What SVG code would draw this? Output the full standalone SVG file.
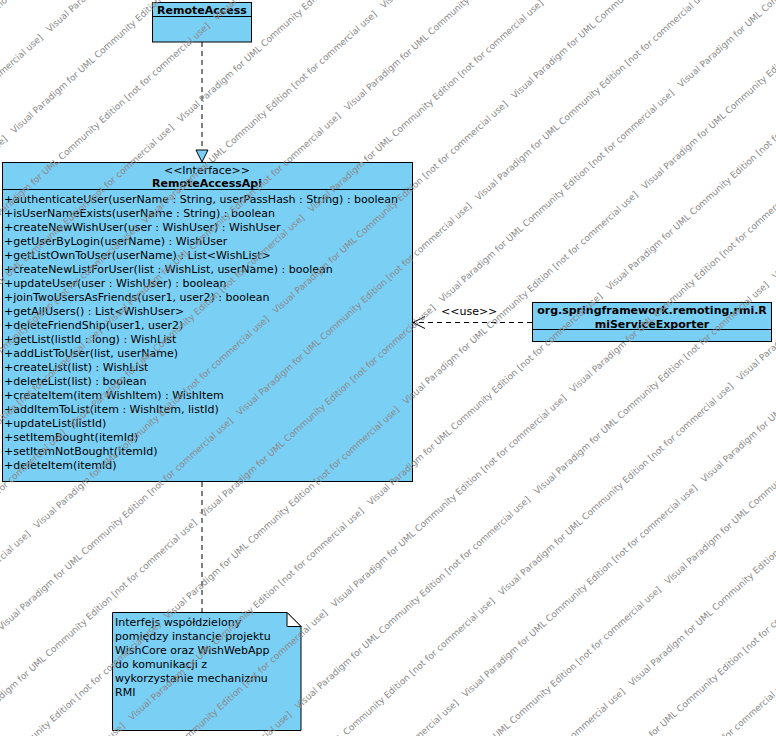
<svg xmlns="http://www.w3.org/2000/svg" width="776" height="736" viewBox="0 0 776 736">
  <defs>
    <style>
      .box { fill: #7ACFF5; stroke: #000; stroke-width: 1; }
      .sep { stroke: #000; stroke-width: 1; }
      .t { font-family: "DejaVu Sans", "Liberation Sans", sans-serif; font-size: 11px; fill: #000; }
      .b { font-weight: bold; }
      .mid { text-anchor: middle; }
      .dash { fill: none; stroke: #000; stroke-width: 1; stroke-dasharray: 5 4; }
      .wm { font-family: "DejaVu Sans", sans-serif; font-size: 9px; fill: #8a8a8a; }
    </style>
    <marker id="openArrow" markerUnits="userSpaceOnUse" markerWidth="14" markerHeight="14" refX="13" refY="7" orient="auto" viewBox="0 0 14 14">
      <path d="M1,1 L13,7 L1,13" fill="none" stroke="#000" stroke-width="1"/>
    </marker>
  </defs>
  <rect width="776" height="736" fill="#fff"/>

  <!-- connectors -->
  <g id="connectors">
    <!-- realization: RemoteAccess -> RemoteAccessApi -->
    <line class="dash" x1="202" y1="42" x2="202" y2="150"/>
    <polygon points="196,150 208,150 202,162" fill="#7ACFF5" stroke="#000" stroke-width="1"/>
    <!-- usage dependency -->
    <line class="dash" x1="532" y1="322.5" x2="413" y2="322.5" marker-end="url(#openArrow)"/>
    <text class="t" x="441" y="314.5">&lt;&lt;use&gt;&gt;</text>
    <!-- note anchor -->
    <line class="dash" x1="202" y1="482" x2="202" y2="612"/>
  </g>

  <!-- RemoteAccess -->
  <g id="RemoteAccess">
    <rect class="box" x="152.5" y="2.5" width="99" height="39.5"/>
    <line class="sep" x1="152.5" y1="16.5" x2="251.5" y2="16.5"/>
    <text class="t b mid" x="202" y="13.5">RemoteAccess</text>
  </g>

  <!-- RemoteAccessApi interface -->
  <g id="RemoteAccessApi">
    <rect class="box" x="2.5" y="162.5" width="410" height="319"/>
    <line class="sep" x1="2.5" y1="189.5" x2="412.5" y2="189.5"/>
    <text class="t mid" x="207" y="174">&lt;&lt;Interface&gt;&gt;</text>
    <text class="t b mid" x="207" y="187">RemoteAccessApi</text>
    <text class="t" x="4" y="202.5">+authenticateUser(userName : String, userPassHash : String) : boolean</text>
    <text class="t" x="4" y="216.5">+isUserNameExists(userName : String) : boolean</text>
    <text class="t" x="4" y="230.5">+createNewWishUser(user : WishUser) : WishUser</text>
    <text class="t" x="4" y="244.5">+getUserByLogin(userName) : WishUser</text>
    <text class="t" x="4" y="258.5">+getListOwnToUser(userName) : List&lt;WishList&gt;</text>
    <text class="t" x="4" y="272.5">+createNewListForUser(list : WishList, userName) : boolean</text>
    <text class="t" x="4" y="286.5">+updateUser(user : WishUser) : boolean</text>
    <text class="t" x="4" y="300.5">+joinTwoUsersAsFriends(user1, user2) : boolean</text>
    <text class="t" x="4" y="314.5">+getAllUsers() : List&lt;WishUser&gt;</text>
    <text class="t" x="4" y="328.5">+deleteFriendShip(user1, user2)</text>
    <text class="t" x="4" y="342.5">+getList(listId : long) : WishList</text>
    <text class="t" x="4" y="356.5">+addListToUser(list, userName)</text>
    <text class="t" x="4" y="370.5">+createList(list) : WishList</text>
    <text class="t" x="4" y="384.5">+deleteList(list) : boolean</text>
    <text class="t" x="4" y="398.5">+createItem(item WishItem) : WishItem</text>
    <text class="t" x="4" y="412.5">+addItemToList(item : WishItem, listId)</text>
    <text class="t" x="4" y="426.5">+updateList(listId)</text>
    <text class="t" x="4" y="440.5">+setItemBought(itemId)</text>
    <text class="t" x="4" y="454.5">+setItemNotBought(itemId)</text>
    <text class="t" x="4" y="468.5">+deleteItem(itemId)</text>
  </g>

  <!-- RmiServiceExporter -->
  <g id="RmiServiceExporter">
    <rect class="box" x="532.5" y="302.5" width="239" height="39"/>
    <line class="sep" x1="532.5" y1="329.5" x2="771.5" y2="329.5"/>
    <text class="t b mid" x="652" y="313.5">org.springframework.remoting.rmi.R</text>
    <text class="t b mid" x="652" y="327.5">miServiceExporter</text>
  </g>

  <!-- note -->
  <g id="note">
    <path class="box" d="M112.5,612.5 H287 L301,626.5 V730.5 H112.5 Z"/>
    <path d="M287,612.5 V626.5 H301 Z" fill="#fff" stroke="#000" stroke-width="1"/>
    <text class="t" x="115" y="626">Interfejs współdzielony</text>
    <text class="t" x="115" y="640">pomiędzy instancje projektu</text>
    <text class="t" x="115" y="654">WishCore oraz WishWebApp</text>
    <text class="t" x="115" y="668">do komunikacji z</text>
    <text class="t" x="115" y="682">wykorzystanie mechanizmu</text>
    <text class="t" x="115" y="696">RMI</text>
  </g>

  <!-- edition watermark, drawn diagonally over everything -->
  <g id="watermark" class="wm" transform="rotate(-42)">
    <text x="-853.4" y="6.1">Visual Paradigm for UML Community Edition [not for commercial use]&#160;&#160;&#160;Visual Paradigm for UML Community Edition [not for commercial use]&#160;&#160;&#160;Visual Paradigm for UML Community Edition [not for commercial use]&#160;&#160;&#160;Visual Paradigm for UML Community Edition [not for commercial use]&#160;&#160;&#160;Visual Paradigm for UML Community Edition [not for commercial use]</text>
    <text x="-948.4" y="57.6">Visual Paradigm for UML Community Edition [not for commercial use]&#160;&#160;&#160;Visual Paradigm for UML Community Edition [not for commercial use]&#160;&#160;&#160;Visual Paradigm for UML Community Edition [not for commercial use]&#160;&#160;&#160;Visual Paradigm for UML Community Edition [not for commercial use]&#160;&#160;&#160;Visual Paradigm for UML Community Edition [not for commercial use]</text>
    <text x="-721.4" y="109.1">Visual Paradigm for UML Community Edition [not for commercial use]&#160;&#160;&#160;Visual Paradigm for UML Community Edition [not for commercial use]&#160;&#160;&#160;Visual Paradigm for UML Community Edition [not for commercial use]&#160;&#160;&#160;Visual Paradigm for UML Community Edition [not for commercial use]&#160;&#160;&#160;Visual Paradigm for UML Community Edition [not for commercial use]</text>
    <text x="-816.4" y="160.6">Visual Paradigm for UML Community Edition [not for commercial use]&#160;&#160;&#160;Visual Paradigm for UML Community Edition [not for commercial use]&#160;&#160;&#160;Visual Paradigm for UML Community Edition [not for commercial use]&#160;&#160;&#160;Visual Paradigm for UML Community Edition [not for commercial use]&#160;&#160;&#160;Visual Paradigm for UML Community Edition [not for commercial use]</text>
    <text x="-911.4" y="212.1">Visual Paradigm for UML Community Edition [not for commercial use]&#160;&#160;&#160;Visual Paradigm for UML Community Edition [not for commercial use]&#160;&#160;&#160;Visual Paradigm for UML Community Edition [not for commercial use]&#160;&#160;&#160;Visual Paradigm for UML Community Edition [not for commercial use]&#160;&#160;&#160;Visual Paradigm for UML Community Edition [not for commercial use]</text>
    <text x="-684.4" y="263.6">Visual Paradigm for UML Community Edition [not for commercial use]&#160;&#160;&#160;Visual Paradigm for UML Community Edition [not for commercial use]&#160;&#160;&#160;Visual Paradigm for UML Community Edition [not for commercial use]&#160;&#160;&#160;Visual Paradigm for UML Community Edition [not for commercial use]&#160;&#160;&#160;Visual Paradigm for UML Community Edition [not for commercial use]</text>
    <text x="-779.4" y="315.1">Visual Paradigm for UML Community Edition [not for commercial use]&#160;&#160;&#160;Visual Paradigm for UML Community Edition [not for commercial use]&#160;&#160;&#160;Visual Paradigm for UML Community Edition [not for commercial use]&#160;&#160;&#160;Visual Paradigm for UML Community Edition [not for commercial use]&#160;&#160;&#160;Visual Paradigm for UML Community Edition [not for commercial use]</text>
    <text x="-874.4" y="366.6">Visual Paradigm for UML Community Edition [not for commercial use]&#160;&#160;&#160;Visual Paradigm for UML Community Edition [not for commercial use]&#160;&#160;&#160;Visual Paradigm for UML Community Edition [not for commercial use]&#160;&#160;&#160;Visual Paradigm for UML Community Edition [not for commercial use]&#160;&#160;&#160;Visual Paradigm for UML Community Edition [not for commercial use]</text>
    <text x="-647.4" y="418.1">Visual Paradigm for UML Community Edition [not for commercial use]&#160;&#160;&#160;Visual Paradigm for UML Community Edition [not for commercial use]&#160;&#160;&#160;Visual Paradigm for UML Community Edition [not for commercial use]&#160;&#160;&#160;Visual Paradigm for UML Community Edition [not for commercial use]&#160;&#160;&#160;Visual Paradigm for UML Community Edition [not for commercial use]</text>
    <text x="-742.4" y="469.6">Visual Paradigm for UML Community Edition [not for commercial use]&#160;&#160;&#160;Visual Paradigm for UML Community Edition [not for commercial use]&#160;&#160;&#160;Visual Paradigm for UML Community Edition [not for commercial use]&#160;&#160;&#160;Visual Paradigm for UML Community Edition [not for commercial use]&#160;&#160;&#160;Visual Paradigm for UML Community Edition [not for commercial use]</text>
    <text x="-837.4" y="521.1">Visual Paradigm for UML Community Edition [not for commercial use]&#160;&#160;&#160;Visual Paradigm for UML Community Edition [not for commercial use]&#160;&#160;&#160;Visual Paradigm for UML Community Edition [not for commercial use]&#160;&#160;&#160;Visual Paradigm for UML Community Edition [not for commercial use]&#160;&#160;&#160;Visual Paradigm for UML Community Edition [not for commercial use]</text>
    <text x="-932.4" y="572.6">Visual Paradigm for UML Community Edition [not for commercial use]&#160;&#160;&#160;Visual Paradigm for UML Community Edition [not for commercial use]&#160;&#160;&#160;Visual Paradigm for UML Community Edition [not for commercial use]&#160;&#160;&#160;Visual Paradigm for UML Community Edition [not for commercial use]&#160;&#160;&#160;Visual Paradigm for UML Community Edition [not for commercial use]</text>
    <text x="-705.4" y="624.1">Visual Paradigm for UML Community Edition [not for commercial use]&#160;&#160;&#160;Visual Paradigm for UML Community Edition [not for commercial use]&#160;&#160;&#160;Visual Paradigm for UML Community Edition [not for commercial use]&#160;&#160;&#160;Visual Paradigm for UML Community Edition [not for commercial use]&#160;&#160;&#160;Visual Paradigm for UML Community Edition [not for commercial use]</text>
    <text x="-800.4" y="675.6">Visual Paradigm for UML Community Edition [not for commercial use]&#160;&#160;&#160;Visual Paradigm for UML Community Edition [not for commercial use]&#160;&#160;&#160;Visual Paradigm for UML Community Edition [not for commercial use]&#160;&#160;&#160;Visual Paradigm for UML Community Edition [not for commercial use]&#160;&#160;&#160;Visual Paradigm for UML Community Edition [not for commercial use]</text>
    <text x="-895.4" y="727.1">Visual Paradigm for UML Community Edition [not for commercial use]&#160;&#160;&#160;Visual Paradigm for UML Community Edition [not for commercial use]&#160;&#160;&#160;Visual Paradigm for UML Community Edition [not for commercial use]&#160;&#160;&#160;Visual Paradigm for UML Community Edition [not for commercial use]&#160;&#160;&#160;Visual Paradigm for UML Community Edition [not for commercial use]</text>
    <text x="-668.4" y="778.6">Visual Paradigm for UML Community Edition [not for commercial use]&#160;&#160;&#160;Visual Paradigm for UML Community Edition [not for commercial use]&#160;&#160;&#160;Visual Paradigm for UML Community Edition [not for commercial use]&#160;&#160;&#160;Visual Paradigm for UML Community Edition [not for commercial use]&#160;&#160;&#160;Visual Paradigm for UML Community Edition [not for commercial use]</text>
    <text x="-763.4" y="830.1">Visual Paradigm for UML Community Edition [not for commercial use]&#160;&#160;&#160;Visual Paradigm for UML Community Edition [not for commercial use]&#160;&#160;&#160;Visual Paradigm for UML Community Edition [not for commercial use]&#160;&#160;&#160;Visual Paradigm for UML Community Edition [not for commercial use]&#160;&#160;&#160;Visual Paradigm for UML Community Edition [not for commercial use]</text>
    <text x="-858.4" y="881.6">Visual Paradigm for UML Community Edition [not for commercial use]&#160;&#160;&#160;Visual Paradigm for UML Community Edition [not for commercial use]&#160;&#160;&#160;Visual Paradigm for UML Community Edition [not for commercial use]&#160;&#160;&#160;Visual Paradigm for UML Community Edition [not for commercial use]&#160;&#160;&#160;Visual Paradigm for UML Community Edition [not for commercial use]</text>
    <text x="-953.4" y="933.1">Visual Paradigm for UML Community Edition [not for commercial use]&#160;&#160;&#160;Visual Paradigm for UML Community Edition [not for commercial use]&#160;&#160;&#160;Visual Paradigm for UML Community Edition [not for commercial use]&#160;&#160;&#160;Visual Paradigm for UML Community Edition [not for commercial use]&#160;&#160;&#160;Visual Paradigm for UML Community Edition [not for commercial use]</text>
    <text x="-726.4" y="984.6">Visual Paradigm for UML Community Edition [not for commercial use]&#160;&#160;&#160;Visual Paradigm for UML Community Edition [not for commercial use]&#160;&#160;&#160;Visual Paradigm for UML Community Edition [not for commercial use]&#160;&#160;&#160;Visual Paradigm for UML Community Edition [not for commercial use]&#160;&#160;&#160;Visual Paradigm for UML Community Edition [not for commercial use]</text>
    <text x="-821.4" y="1036.1">Visual Paradigm for UML Community Edition [not for commercial use]&#160;&#160;&#160;Visual Paradigm for UML Community Edition [not for commercial use]&#160;&#160;&#160;Visual Paradigm for UML Community Edition [not for commercial use]&#160;&#160;&#160;Visual Paradigm for UML Community Edition [not for commercial use]&#160;&#160;&#160;Visual Paradigm for UML Community Edition [not for commercial use]</text>
    <text x="-916.4" y="1087.6">Visual Paradigm for UML Community Edition [not for commercial use]&#160;&#160;&#160;Visual Paradigm for UML Community Edition [not for commercial use]&#160;&#160;&#160;Visual Paradigm for UML Community Edition [not for commercial use]&#160;&#160;&#160;Visual Paradigm for UML Community Edition [not for commercial use]&#160;&#160;&#160;Visual Paradigm for UML Community Edition [not for commercial use]</text>
  </g>
</svg>
